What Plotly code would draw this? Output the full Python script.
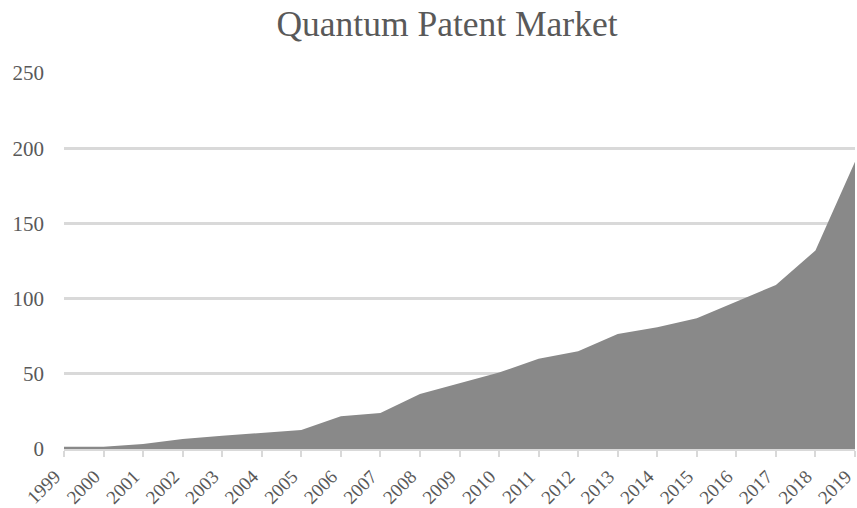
import plotly.graph_objects as go

# Annual quantum patent counts
years = list(range(1999, 2020))
patents = [1.5, 1.5, 3.3, 6.6, 8.8, 10.6, 12.6, 21.8, 23.9, 36.6, 43.7,
           50.8, 60, 65, 76.5, 81, 87, 98, 109, 132, 191]
year_labels = [str(y) for y in years]
y_ticks = [0, 50, 100, 150, 200, 250]

TEXT = "#595959"
GRID = "#d9d9d9"
FONT = "Liberation Serif, Times New Roman, serif"

fig = go.Figure()
fig.add_trace(go.Scatter(
    x=years, y=patents, mode="lines", fill="tozeroy",
    line=dict(width=0, color="#898989"), fillcolor="#898989",
    hoverinfo="x+y", showlegend=False,
))

fig.update_layout(
    width=857, height=508,
    margin=dict(l=64, r=2, t=73, b=59),
    paper_bgcolor="white", plot_bgcolor="white",
    font=dict(family=FONT, color=TEXT, size=20),
    title=dict(text="Quantum Patent Market", x=447 / 857, xanchor="center",
               xref="container", yref="container", y=1 - 24 / 508,
               yanchor="middle", font=dict(size=35.5, color=TEXT, family=FONT)),
)
fig.update_xaxes(
    range=[1999, 2019], tickmode="array", tickvals=years,
    ticktext=year_labels, tickangle=-45, showgrid=False, zeroline=False,
    showline=True, linecolor=GRID, linewidth=2,
    ticks="outside", ticklen=6, tickcolor=GRID, tickwidth=2,
    ticklabelstandoff=1, ticklabelshift=-9,
    ticklabeloverflow="allow", automargin=False,
    tickfont=dict(size=19, color=TEXT, family=FONT),
)
fig.update_yaxes(
    range=[0, 250], tickmode="array", tickvals=y_ticks,
    showgrid=True, gridcolor=GRID, gridwidth=2.5, zeroline=False,
    showline=False, ticks="", ticklabelstandoff=19, automargin=False,
    tickfont=dict(size=21, color=TEXT, family=FONT),
)

fig.write_html("out.html")
